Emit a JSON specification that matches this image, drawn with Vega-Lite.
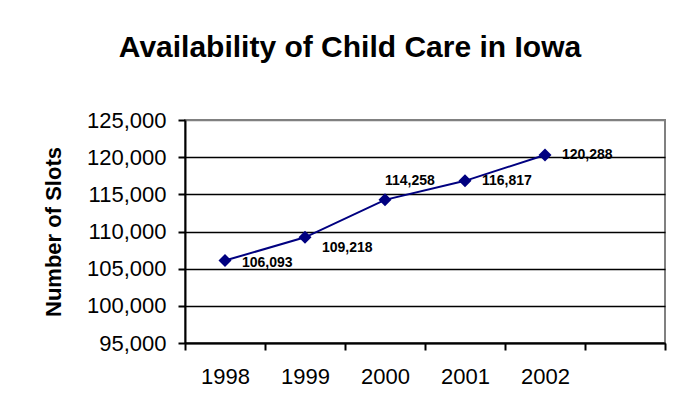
{
  "$schema": "https://vega.github.io/schema/vega-lite/v6.json",
  "autosize": {"type": "none"},
  "width": 480,
  "height": 223,
  "padding": {"left": 185, "top": 120, "right": 11, "bottom": 68},
  "background": "white",
  "title": {
    "text": "Availability of Child Care in Iowa",
    "font": "Liberation Sans",
    "fontSize": 30,
    "fontWeight": "bold",
    "color": "black",
    "anchor": "middle",
    "baseline": "alphabetic",
    "dx": -75,
    "offset": 22
  },
  "config": {
    "view": {"stroke": "#808080", "strokeWidth": 2},
    "font": "Liberation Sans"
  },
  "data": {
    "values": [
      {"year": "1998", "slots": 106093},
      {"year": "1999", "slots": 109218},
      {"year": "2000", "slots": 114258},
      {"year": "2001", "slots": 116817},
      {"year": "2002", "slots": 120288}
    ]
  },
  "encoding": {
    "x": {
      "field": "year",
      "type": "ordinal",
      "bandPosition": 0.5,
      "scale": {"type": "band", "domain": ["1998", "1999", "2000", "2001", "2002", " "], "paddingInner": 0, "paddingOuter": 0},
      "axis": {
        "title": null,
        "tickBand": "extent",
        "labelAngle": 0,
        "labelFontSize": 22,
        "labelColor": "black",
        "labelPadding": 16,
        "tickSize": 7,
        "tickColor": "black",
        "tickWidth": 2,
        "domainColor": "black",
        "domainWidth": 2,
        "grid": false
      }
    },
    "y": {
      "field": "slots",
      "type": "quantitative",
      "scale": {"domain": [95000, 125000], "nice": false, "zero": false},
      "axis": {
        "title": "Number of Slots",
        "titleFontSize": 22,
        "titleFontWeight": "bold",
        "titleColor": "black",
        "titleX": -132,
        "titleY": 111.5,
        "titleAngle": -90,
        "titleBaseline": "middle",
        "titleAlign": "center",
        "values": [95000, 100000, 105000, 110000, 115000, 120000, 125000],
        "format": ",d",
        "labelFontSize": 22,
        "labelColor": "black",
        "labelPadding": 12,
        "tickSize": 7,
        "tickColor": "black",
        "tickWidth": 2,
        "domainColor": "black",
        "domainWidth": 2,
        "grid": true,
        "gridColor": {"condition": {"test": "datum.value == 125000", "value": "#808080"}, "value": "black"},
        "gridWidth": 1.5,
        "gridOpacity": 1
      }
    }
  },
  "layer": [
    {"mark": {"type": "line", "color": "#000080", "strokeWidth": 2}},
    {"mark": {"type": "point", "shape": "diamond", "filled": true, "color": "#000080", "size": 170, "opacity": 1}},
    {
      "transform": [{"filter": "datum.year == '1998'"}],
      "mark": {"type": "text", "align": "left", "baseline": "middle", "dx": 17, "dy": 2, "fontSize": 14, "fontWeight": "bold", "color": "black"},
      "encoding": {"text": {"field": "slots", "type": "quantitative", "format": ",d"}}
    },
    {
      "transform": [{"filter": "datum.year == '1999'"}],
      "mark": {"type": "text", "align": "left", "baseline": "middle", "dx": 17, "dy": 11, "fontSize": 14, "fontWeight": "bold", "color": "black"},
      "encoding": {"text": {"field": "slots", "type": "quantitative", "format": ",d"}}
    },
    {
      "transform": [{"filter": "datum.year == '2000'"}],
      "mark": {"type": "text", "align": "left", "baseline": "middle", "dx": 0, "dy": -19, "fontSize": 14, "fontWeight": "bold", "color": "black"},
      "encoding": {"text": {"field": "slots", "type": "quantitative", "format": ",d"}}
    },
    {
      "transform": [{"filter": "datum.year == '2001' || datum.year == '2002'"}],
      "mark": {"type": "text", "align": "left", "baseline": "middle", "dx": 17, "dy": 0, "fontSize": 14, "fontWeight": "bold", "color": "black"},
      "encoding": {"text": {"field": "slots", "type": "quantitative", "format": ",d"}}
    }
  ]
}
